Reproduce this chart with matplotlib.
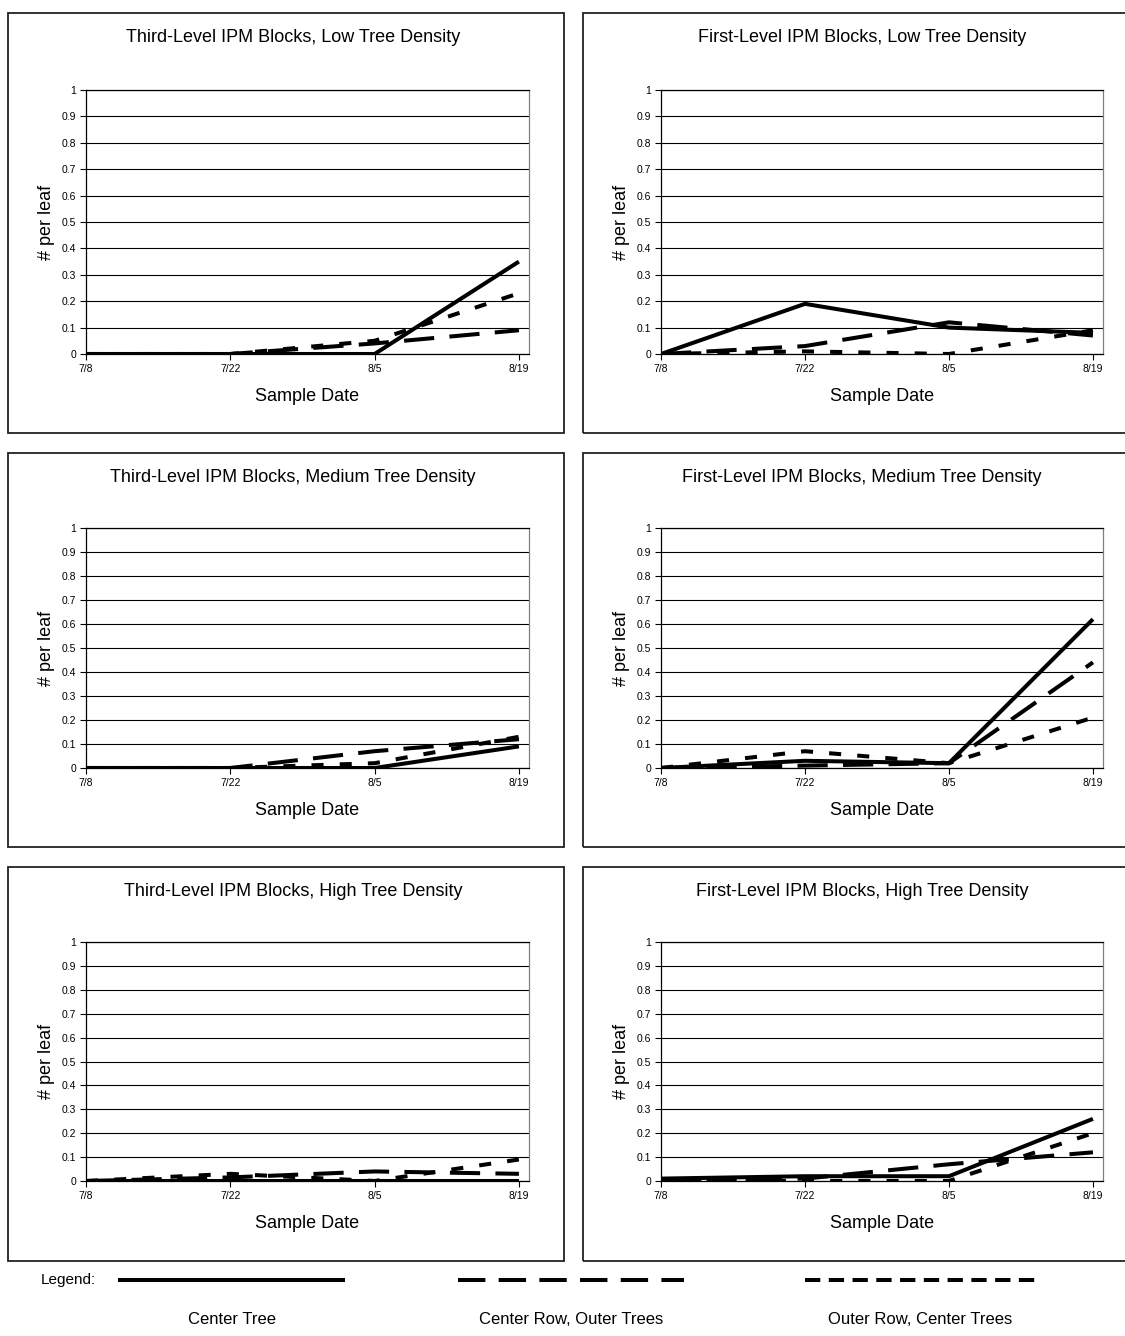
import numpy as np
import matplotlib
matplotlib.use("Agg")
from matplotlib import pyplot as plt
from matplotlib.patches import Rectangle
from matplotlib.lines import Line2D

plt.rcParams['font.family'] = ['Liberation Sans', 'DejaVu Sans']

# sample dates and values (# per leaf)
dates = ['7/8', '7/22', '8/5', '8/19']
series_names = ['Center Tree', 'Center Row, Outer Trees', 'Outer Row, Center Trees']

titles = ['Third-Level IPM Blocks, Low Tree Density',
          'First-Level IPM Blocks, Low Tree Density',
          'Third-Level IPM Blocks, Medium Tree Density',
          'First-Level IPM Blocks, Medium Tree Density',
          'Third-Level IPM Blocks, High Tree Density',
          'First-Level IPM Blocks, High Tree Density']

third_low_center = [0.0, 0.0, 0.0, 0.35]
third_low_row = [0.0, 0.0, 0.04, 0.09]
third_low_outer = [0.0, 0.0, 0.05, 0.23]

first_low_center = [0.0, 0.19, 0.10, 0.08]
first_low_row = [0.0, 0.03, 0.12, 0.07]
first_low_outer = [0.0, 0.01, 0.0, 0.09]

third_med_center = [0.0, 0.0, 0.0, 0.09]
third_med_row = [0.0, 0.0, 0.07, 0.12]
third_med_outer = [0.0, 0.0, 0.02, 0.13]

first_med_center = [0.0, 0.03, 0.02, 0.62]
first_med_row = [0.0, 0.01, 0.02, 0.44]
first_med_outer = [0.0, 0.07, 0.02, 0.21]

third_high_center = [0.0, 0.0, 0.0, 0.0]
third_high_row = [0.0, 0.015, 0.04, 0.03]
third_high_outer = [0.0, 0.03, 0.0, 0.09]

first_high_center = [0.01, 0.02, 0.02, 0.26]
first_high_row = [0.0, 0.01, 0.07, 0.12]
first_high_outer = [0.0, 0.0, 0.0, 0.20]

panels = [
    (third_low_center, third_low_row, third_low_outer),
    (first_low_center, first_low_row, first_low_outer),
    (third_med_center, third_med_row, third_med_outer),
    (first_med_center, first_med_row, first_med_outer),
    (third_high_center, third_high_row, third_high_outer),
    (first_high_center, first_high_row, first_high_outer),
]

W, H = 1125, 1336
fig = plt.figure(figsize=(W / 100, H / 100), dpi=100)

def fx(x):
    return x / W

def fy(y):
    return 1 - y / H

LW = 2.9
styles = [dict(linestyle='-'),
          dict(dashes=(7.5, 3.8)),
          dict(dashes=(3.0, 4.0))]

# pixel layout of each panel: box, plot area, title position
box_cols = [(8, 564), (583, 1135)]
box_rows = [(13, 433), (453, 847), (867, 1261)]
plot_cols = [(86, 529), (661, 1103)]
plot_rows = [(90, 354), (528, 768), (942, 1181)]
title_x = [293, 862]

for i in range(6):
    r, c = divmod(i, 2)
    bx0, bx1 = box_cols[c]
    by0, by1 = box_rows[r]
    fig.add_artist(Rectangle((fx(bx0), fy(by1)), fx(bx1 - bx0), (by1 - by0) / H,
                             transform=fig.transFigure, fill=False,
                             edgecolor='#222222', linewidth=1.3))
    px0, px1 = plot_cols[c]
    py0, py1 = plot_rows[r]
    ax = fig.add_axes([fx(px0), fy(py1), fx(px1 - px0), (py1 - py0) / H])
    x = np.arange(len(dates))
    for vals, st in zip(panels[i], styles):
        ax.plot(x, vals, color='black', linewidth=LW, solid_capstyle='butt',
                dash_capstyle='butt', **st)
    ax.set_ylim(0, 1)
    ax.set_xlim(0, 3.07)
    ax.set_yticks(np.arange(0, 1.01, 0.1))
    ax.set_yticklabels(['0'] + ['%.1f' % v for v in np.arange(0.1, 0.95, 0.1)] + ['1'])
    ax.set_xticks(x)
    ax.set_xticklabels(dates)
    ax.tick_params(labelsize=7.5, length=4, width=0.8, color='black', pad=3)
    ax.yaxis.grid(True, color='black', linewidth=0.8)
    ax.set_axisbelow(True)
    for s in ['left', 'bottom', 'top']:
        ax.spines[s].set_color('black')
        ax.spines[s].set_linewidth(0.9)
    ax.spines['right'].set_color('#808080')
    ax.spines['right'].set_linewidth(0.9)
    ax.set_xlabel('Sample Date', fontsize=13, labelpad=10)
    ax.set_ylabel('# per leaf', fontsize=13, labelpad=5)
    fig.text(fx(title_x[c]), fy(by0 + 24), titles[i], fontsize=13,
             ha='center', va='center')

# legend at the bottom
fig.text(fx(96), fy(1280), 'Legend:', fontsize=11, ha='right', va='center')
leg_lines = [((118, 345), dict(linestyle='-')),
             ((458, 684), dict(dashes=(6.8, 3.3))),
             ((805, 1035), dict(dashes=(3.8, 2.1)))]
for name, ((lx0, lx1), st) in zip(series_names, leg_lines):
    fig.add_artist(Line2D([fx(lx0), fx(lx1)], [fy(1280), fy(1280)],
                          transform=fig.transFigure, color='black',
                          linewidth=2.9, solid_capstyle='butt',
                          dash_capstyle='butt', **st))
    fig.text(fx((lx0 + lx1) / 2), fy(1320), name, fontsize=12,
             ha='center', va='center')

fig.savefig('out.png', dpi=100)
